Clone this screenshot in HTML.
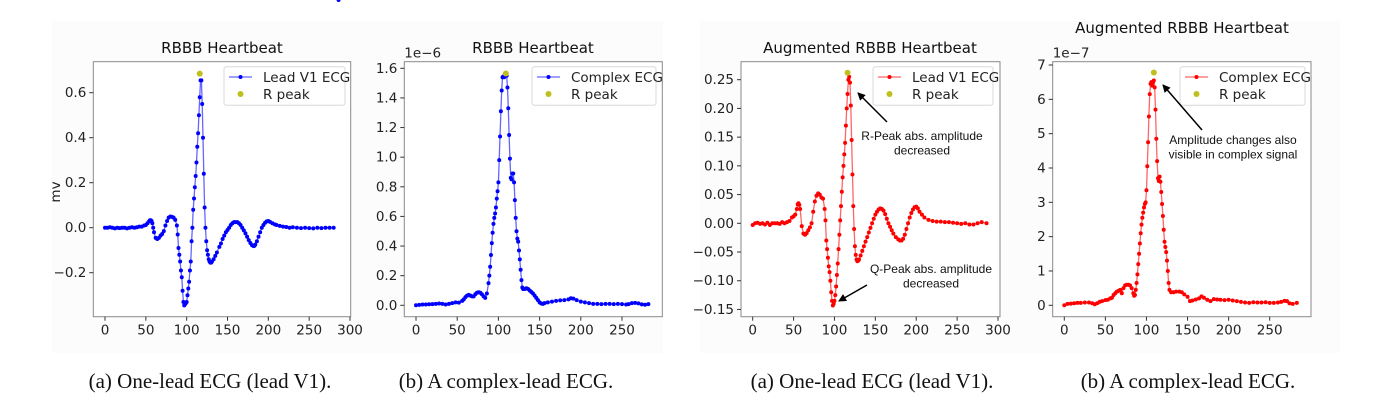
<!DOCTYPE html>
<html><head><meta charset="utf-8"><style>
body{margin:0;background:#fff;width:1397px;height:405px;overflow:hidden;position:relative;font-family:"DejaVu Sans","Liberation Sans",sans-serif}
.cap{position:absolute;top:369px;font-family:"Liberation Serif",serif;font-size:21px;color:#111;white-space:nowrap;transform:translateX(-50%)}
</style></head><body>
<svg id="svg" width="1397" height="405" style="position:absolute;left:0;top:0">
<rect x="52" y="21" width="611" height="332" fill="#fcfcfc"/>
<rect x="700" y="21" width="640" height="332" fill="#fcfcfc"/>
</svg>
<div class="cap" style="left:210px">(a) One-lead ECG (lead V1).</div>
<div class="cap" style="left:506px">(b) A complex-lead ECG.</div>
<div class="cap" style="left:872px">(a) One-lead ECG (lead V1).</div>
<div class="cap" style="left:1188px">(b) A complex-lead ECG.</div>
<script>
// Panel 1: Lead V1 ECG
const p1x=[0,3,6,9,12,15,18,21,24,27,30,33,36,39,42,45,48,50,52,54,55,56,57,58,59,60,62,64,66,68,70,72,74,76,78,80,82,84,86,88,89,90,91,92,93,94,95,96,97,98,99,100,101,102,103,104,105,106,107,108,109,110,111,112,113,114,115,116,117,118,119,120,121,122,123,124,125,126,127,128,129,130,131,133,135,137,140,142,144,146,148,150,152,154,156,158,160,162,164,166,168,170,172,174,176,178,180,182,183,184,186,188,190,192,194,196,198,200,202,205,208,210,214,218,222,226,230,235,240,245,250,255,260,265,270,275,280,286];
const p1y=[0,0,0.002,0,-0.003,0,-0.002,0,0,-0.003,0,0.002,0,0.002,0.005,0.005,0.01,0.012,0.02,0.028,0.033,0.033,0.03,0.02,0.0,-0.02,-0.045,-0.05,-0.045,-0.035,-0.028,-0.015,0.01,0.03,0.045,0.05,0.048,0.045,0.035,0.01,-0.03,-0.09,-0.12,-0.15,-0.19,-0.22,-0.28,-0.33,-0.345,-0.34,-0.335,-0.33,-0.3,-0.27,-0.24,-0.19,-0.15,-0.06,0.0,0.08,0.13,0.18,0.23,0.29,0.36,0.42,0.5,0.58,0.655,0.655,0.55,0.4,0.24,0.09,0.0,-0.06,-0.1,-0.12,-0.14,-0.15,-0.155,-0.155,-0.15,-0.14,-0.125,-0.11,-0.085,-0.07,-0.05,-0.035,-0.02,-0.01,0.0,0.012,0.02,0.025,0.025,0.025,0.02,0.012,0.0,-0.012,-0.025,-0.04,-0.055,-0.068,-0.078,-0.082,-0.08,-0.075,-0.06,-0.04,-0.02,0.0,0.012,0.022,0.028,0.03,0.026,0.02,0.015,0.012,0.008,0.005,0.003,0.0,0.002,0.0,-0.002,0.0,-0.002,-0.003,0.0,-0.002,0.0,0.0,0.0];
// Panel 2: Complex ECG (x1e-6)
const p2x=[0,4,8,12,16,20,24,28,32,36,40,44,48,52,56,58,60,62,64,66,68,70,72,74,76,78,80,82,84,86,88,89,90,91,92,93,94,95,96,97,98,99,100,101,102,103,104,105,106,107,108,109,110,111,112,113,114,115,116,117,118,119,120,121,122,123,124,125,126,127,128,129,130,132,134,136,138,140,142,144,146,148,150,152,154,156,160,165,170,175,180,185,188,191,195,200,205,210,215,220,225,230,235,240,245,250,255,258,262,266,270,274,278,282];
const p2y=[0,0.003,0.005,0.005,0.007,0.008,0.01,0.012,0.01,0.005,0.01,0.015,0.02,0.018,0.03,0.04,0.055,0.065,0.07,0.065,0.06,0.06,0.075,0.085,0.088,0.085,0.075,0.06,0.05,0.08,0.15,0.2,0.26,0.34,0.42,0.49,0.55,0.59,0.62,0.66,0.72,0.77,0.83,0.98,1.14,1.31,1.45,1.54,1.545,1.54,1.55,1.56,1.55,1.47,1.33,1.15,0.99,0.86,0.85,0.89,0.89,0.83,0.71,0.59,0.5,0.45,0.43,0.37,0.31,0.24,0.17,0.12,0.11,0.11,0.115,0.11,0.1,0.09,0.08,0.065,0.05,0.035,0.02,0.012,0.01,0.015,0.02,0.025,0.03,0.033,0.035,0.04,0.048,0.045,0.035,0.025,0.02,0.015,0.01,0.01,0.008,0.01,0.01,0.008,0.01,0.008,0.005,0.008,0.015,0.016,0.013,0.006,0.004,0.008];
// Panel 3: Augmented Lead V1 ECG
const p3x=[0,3,6,9,12,15,18,21,24,27,30,33,36,39,42,45,48,50,52,54,55,56,57,58,60,62,64,66,68,70,72,74,76,78,80,82,84,86,88,89,90,91,92,93,94,95,96,97,98,99,100,101,102,103,104,105,106,107,108,109,110,111,112,113,114,115,116,117,118,119,120,121,122,123,124,125,126,127,128,129,130,132,134,136,138,140,142,144,146,148,150,152,154,156,158,160,162,164,166,168,170,172,175,178,180,182,184,186,188,190,192,194,196,198,200,202,204,207,210,215,220,225,230,235,240,245,250,255,260,265,270,275,280,286];
const p3y=[-0.003,0,0.001,-0.001,0,-0.002,0.001,-0.003,0,0,0,-0.001,0.002,0,0.002,0.004,0.01,0.012,0.015,0.025,0.033,0.035,0.032,0.025,-0.005,-0.018,-0.02,-0.017,-0.012,-0.007,0.0,0.02,0.038,0.048,0.052,0.05,0.045,0.043,0.025,0.005,-0.03,-0.045,-0.06,-0.075,-0.085,-0.1,-0.12,-0.135,-0.143,-0.14,-0.135,-0.125,-0.11,-0.09,-0.07,-0.045,-0.02,0.005,0.03,0.055,0.08,0.1,0.12,0.14,0.17,0.2,0.225,0.25,0.255,0.245,0.205,0.145,0.085,0.03,-0.01,-0.04,-0.055,-0.063,-0.066,-0.065,-0.063,-0.056,-0.048,-0.04,-0.032,-0.024,-0.016,-0.008,0.0,0.008,0.015,0.02,0.024,0.026,0.025,0.022,0.016,0.008,0.0,-0.006,-0.012,-0.018,-0.024,-0.028,-0.03,-0.03,-0.027,-0.02,-0.01,0.0,0.01,0.018,0.024,0.028,0.029,0.026,0.02,0.015,0.01,0.006,0.004,0.003,0.003,0.002,0.002,0.001,0.0,-0.001,0.0,-0.002,-0.002,0.0,0.002,0.0];
// Panel 4: Augmented Complex ECG (x1e-7)
const p4x=[0,4,8,12,16,20,25,30,34,37,40,43,46,50,53,56,58,60,62,64,66,68,70,72,74,76,78,80,82,84,85,86,87,88,89,90,91,92,93,94,95,96,97,98,99,100,101,102,103,104,105,106,107,108,109,110,111,112,113,114,115,116,117,118,119,120,121,122,123,124,125,126,127,128,130,133,136,140,143,146,150,153,156,160,164,167,170,174,178,182,186,190,195,200,205,210,215,220,225,230,235,240,245,250,255,260,264,268,271,274,278,283];
const p4y=[0,0.04,0.05,0.06,0.07,0.07,0.08,0.08,0.06,0.03,0.06,0.1,0.12,0.15,0.16,0.2,0.22,0.3,0.35,0.4,0.42,0.45,0.35,0.5,0.58,0.6,0.6,0.58,0.5,0.35,0.28,0.3,0.45,0.65,0.9,1.2,1.5,1.8,2.1,2.35,2.55,2.7,2.85,2.95,3.0,3.35,4.05,4.75,5.5,6.15,6.45,6.5,6.4,6.5,6.55,6.35,5.7,4.85,4.2,3.7,3.62,3.75,3.6,3.3,2.95,2.6,2.2,1.85,1.7,1.55,1.3,1.0,0.65,0.45,0.38,0.38,0.4,0.4,0.38,0.32,0.25,0.12,0.14,0.17,0.2,0.26,0.22,0.16,0.12,0.18,0.17,0.16,0.15,0.16,0.14,0.12,0.1,0.08,0.07,0.09,0.08,0.08,0.09,0.07,0.07,0.08,0.1,0.13,0.12,0.06,0.04,0.07];
const p1tx=[0,50,100,150,200,250,300], p1ty=[-0.2,0,0.2,0.4,0.6], p1tyl=["\u22120.2","0.0","0.2","0.4","0.6"];
const p2tx=[0,50,100,150,200,250], p2ty=[0,0.2,0.4,0.6,0.8,1.0,1.2,1.4,1.6], p2tyl=["0.0","0.2","0.4","0.6","0.8","1.0","1.2","1.4","1.6"];
const p3tx=[0,50,100,150,200,250,300], p3ty=[-0.15,-0.1,-0.05,0,0.05,0.1,0.15,0.2,0.25], p3tyl=["\u22120.15","\u22120.10","\u22120.05","0.00","0.05","0.10","0.15","0.20","0.25"];
const p4tx=[0,50,100,150,200,250], p4ty=[0,1,2,3,4,5,6,7], p4tyl=["0","1","2","3","4","5","6","7"];
const rpeaks=[[116,0.685],[109,1.565],[116,0.262],[109,6.78]];
const titles=["RBBB Heartbeat","RBBB Heartbeat","Augmented RBBB Heartbeat","Augmented RBBB Heartbeat"];
const legendLabels=["Lead V1 ECG","Complex ECG","Lead V1 ECG","Complex ECG"];

const NS="http://www.w3.org/2000/svg", svg=document.getElementById('svg');
function mk(tag,attrs,parent,text){const e=document.createElementNS(NS,tag);for(const k in attrs)e.setAttribute(k,attrs[k]);if(text!==undefined)e.textContent=text;(parent||svg).appendChild(e);return e;}
const panels=[
 {box:[93.3,61.7,350.7,316.7],x0:[0,105],x1:[300,350],y0:[0,227.7],y1:[0.6,92.7],xs:p1x,ys:p1y,tx:p1tx,ty:p1ty,tyl:p1tyl,col:"#0000ff",tt:[222,53],lg:[224,345]},
 {box:[404.3,61.7,662.3,316.7],x0:[0,416],x1:[250,622],y0:[0,305.3],y1:[1.6,68.3],xs:p2x,ys:p2y,tx:p2tx,ty:p2ty,tyl:p2tyl,col:"#0000ff",tt:[533,53],lg:[532,656],off:"1e\u22126"},
 {box:[741,61.7,1000,316.7],x0:[0,752.7],x1:[300,998],y0:[0,223.3],y1:[0.25,79.7],xs:p3x,ys:p3y,tx:p3tx,ty:p3ty,tyl:p3tyl,col:"#ff0000",tt:[870,53],lg:[873,993]},
 {box:[1052.7,61.7,1311,316.7],x0:[0,1064.3],x1:[250,1269.7],y0:[0,305.3],y1:[7,65],xs:p4x,ys:p4y,tx:p4tx,ty:p4ty,tyl:p4tyl,col:"#ff0000",tt:[1182,33],lg:[1180,1305],off:"1e\u22127"}
];
panels.forEach((p,i)=>{
 const sx=v=>p.x0[1]+(v-p.x0[0])*(p.x1[1]-p.x0[1])/(p.x1[0]-p.x0[0]);
 const sy=v=>p.y0[1]+(v-p.y0[0])*(p.y1[1]-p.y0[1])/(p.y1[0]-p.y0[0]);
 const g=mk('g',{});
 
 
 const [l,t,r,b]=p.box;
 const fr=mk('rect',{x:l,y:t,width:r-l,height:b-t,fill:'#ffffff',stroke:'#8a8a8a','stroke-width':1},g);
 
 
 p.tx.forEach(v=>{const x=sx(v);mk('line',{x1:x,x2:x,y1:b,y2:b+4,stroke:'#333'},g);
  const tl=mk('text',{x:x,y:b+18,'text-anchor':'middle','font-size':13.5,fill:'#222'},g,String(v));
  
  });
 p.ty.forEach((v,k)=>{const y=sy(v);mk('line',{x1:l-4,x2:l,y1:y,y2:y,stroke:'#333'},g);
  const tl=mk('text',{x:l-7,y:y+4.5,'text-anchor':'end','font-size':13.5,fill:'#222'},g,p.tyl[k]);
  
  });
 if(p.off){const o=mk('text',{x:l,y:t-4,'font-size':13.5,fill:'#222'},g,p.off);
  
  }
 const ti=mk('text',{x:p.tt[0],y:p.tt[1],'text-anchor':'middle','font-size':15,fill:'#111'},g,titles[i]);
 
 
 const pts=p.xs.map((x,k)=>sx(x).toFixed(1)+','+sy(p.ys[k]).toFixed(1)).join(' ');
 const ln=mk('polyline',{points:pts,fill:'none',stroke:p.col,'stroke-width':1.3,'stroke-opacity':0.6},g);
 
 
 p.xs.forEach((x,k)=>{const c=mk('circle',{cx:sx(x),cy:sy(p.ys[k]),r:2,fill:p.col},g);
  
  });
 const rp=mk('circle',{cx:sx(rpeaks[i][0]),cy:sy(rpeaks[i][1]),r:3,fill:'#bfbf1f'},g);
 
 
 const L=p.lg[0],R=p.lg[1];
 const lg=mk('g',{},g);
 
 
 mk('rect',{x:L,y:66.7,width:R-L,height:38.5,rx:2.5,fill:'#ffffff',stroke:'#d8d8d8'},lg);
 mk('line',{x1:L+5,x2:L+28,y1:77,y2:77,stroke:p.col,'stroke-opacity':0.6,'stroke-width':1.3},lg);
 mk('circle',{cx:L+16.5,cy:77,r:2,fill:p.col},lg);
 const t1=mk('text',{x:L+39,y:82,'font-size':13.5,fill:'#222'},lg,legendLabels[i]);
 
 
 mk('circle',{cx:L+16.5,cy:94,r:3,fill:'#bfbf1f'},lg);
 const t2=mk('text',{x:L+39,y:99,'font-size':13.5,fill:'#222'},lg,'R peak');
 
 
});
const yl=mk('text',{x:60,y:192,'text-anchor':'middle','font-size':13.5,fill:'#222',transform:'rotate(-90 60 192)'},svg,'mv');


const defs=mk('defs',{});
const m=mk('marker',{id:'ah',markerWidth:8,markerHeight:8,refX:7,refY:4,orient:'auto',markerUnits:'userSpaceOnUse'},defs);
mk('path',{d:'M0,0 L8,4 L0,8 z',fill:'#000'},m);
function ann(name,lines,cx,cy,ax1,ay1,ax2,ay2){
 const g=mk('g',{});
 
 
 mk('line',{x1:ax1,y1:ay1,x2:ax2,y2:ay2,stroke:'#000','stroke-width':1.5,'marker-end':'url(#ah)'},g);
 lines.forEach((s,k)=>mk('text',{x:cx,y:cy+k*14.5,'text-anchor':'middle','font-family':'Liberation Sans, sans-serif','font-size':12,fill:'#111'},g,s));
}
ann('r-peak-annotation',['R-Peak abs. amplitude','decreased'],922,140,887,122,858,93);
ann('q-peak-annotation',['Q-Peak abs. amplitude','decreased'],931,273,867,285,839,301);
ann('complex-annotation',['Amplitude changes also','visible in complex signal'],1233,144,1202,130,1163,85);
</script>
</body></html>
